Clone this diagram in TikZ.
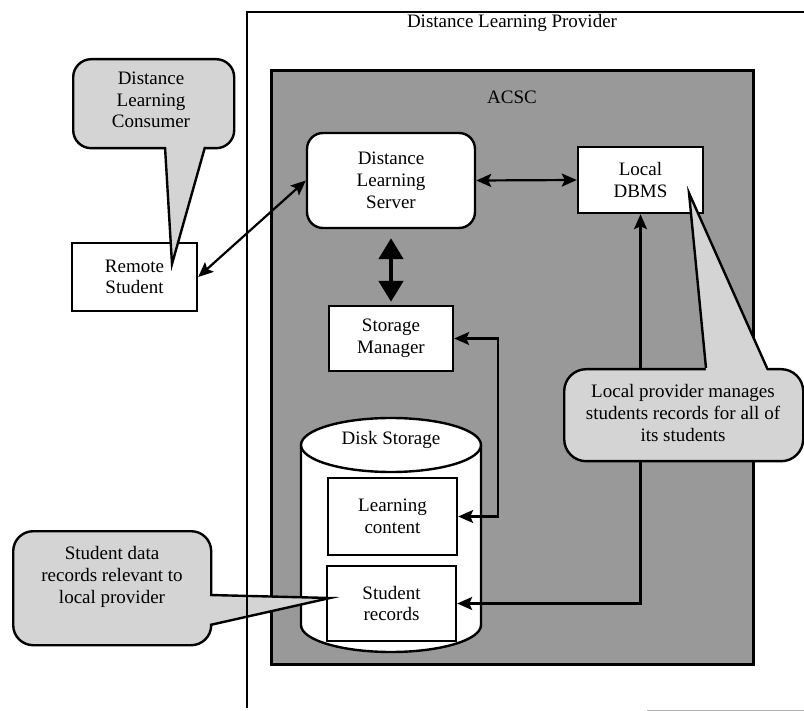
\documentclass[tikz,border=0pt]{standalone}
\usepackage{fontspec}
\setmainfont{Liberation Serif}
\usetikzlibrary{arrows.meta}
\definecolor{acscfill}{gray}{0.6}
\definecolor{notefill}{gray}{0.83}
\begin{document}
\begin{tikzpicture}[x=1pt,y=-1pt,
  font=\fontsize{19}{21.7}\selectfont,
  box/.style={draw, line width=2.4pt, fill=white, align=center, inner sep=0pt},
  link/.style={line width=2.2pt,
    {Stealth[length=15pt,width=13pt,inset=3pt]}-{Stealth[length=15pt,width=13pt,inset=3pt]}},
  biglink/.style={line width=4.8pt,
    {Triangle[length=21pt,width=24pt]}-{Triangle[length=21pt,width=24pt]}},
  note/.style={draw, line width=2.4pt, fill=notefill, align=center, inner sep=0pt},
  tailfill/.style={fill=notefill},
  tailedge/.style={line width=2.4pt, line join=miter},
  ]
\useasboundingbox (0,0) rectangle (804,711);

% ACSC area
\node[draw, line width=3pt, fill=acscfill, inner sep=0pt, anchor=north west,
      minimum width=482, minimum height=594] (acsc) at (270,69) {};
\node (acsclbl) at (512,97) {ACSC};

% provider caption
\node (prov) at (512,23) {Distance Learning Provider};

% components
\node[box, minimum width=125, minimum height=68] (rs) at (134.5,277) {Remote\\Student};
\node[box, rounded corners=16pt, minimum width=168, minimum height=95] (srv) at (391,180.5) {Distance\\Learning\\Server};
\node[box, minimum width=125, minimum height=66] (dbms) at (640.5,180) {Local\\DBMS};
\node[box, minimum width=124, minimum height=65] (sm) at (391,338.5) {Storage\\Manager};

% disk storage cylinder
\draw[line width=2.4pt, fill=white]
  (301,445) -- (301,625)
  .. controls (301,639.9) and (341.3,652) .. (391,652)
  .. controls (440.7,652) and (481,639.9) .. (481,625)
  -- (481,445);
\draw[line width=2.4pt, fill=white] (391,445) ellipse [x radius=90, y radius=27];
\node (disk) at (391,440) {Disk Storage};
\node[box, minimum width=129, minimum height=77] (lc) at (392.5,516.5) {Learning\\content};
\node[box, minimum width=129, minimum height=75] (sr) at (391.5,603.5) {Student\\records};

% connectors
\draw[link] (rs.east) -- (srv.west);
\draw[link] (srv.east) -- (dbms.west);
\draw[biglink, shorten <=9pt, shorten >=3pt] (srv.south) -- (sm.north);
\draw[link] (sm.east) -- ++(44,0) |- (lc.east);
\draw[link] (dbms.south) |- (sr.east);

% callout: consumer
\node[note, rounded corners=18pt, minimum width=161, minimum height=89, anchor=north west] (dlc) at (72,58) {};
\node[align=center] (dlctext) at (151,100) {Distance\\Learning\\Consumer};
\coordinate (dlctip) at (172,264);
\fill[tailfill] (165,144) -- (dlctip) -- (205,144) -- cycle;
\draw[tailedge] (165,147) -- (dlctip) -- (205,147);

% callout: local provider
\node[note, rounded corners=22pt, minimum width=239, minimum height=92, anchor=north west] (lp) at (563,368) {};
\node[align=center] (lptext) at (683,413) {Local provider manages\\students records for all of\\its students};
\coordinate (lptip) at (689,193);
\fill[tailfill] (706,371) -- (lptip) -- (767,371) -- cycle;
\draw[tailedge] (706,368) -- (lptip) -- (767,368);

% callout: student data
\node[note, rounded corners=20pt, minimum width=198, minimum height=114, anchor=north west] (sd) at (12,530) {};
\node[align=center] (sdtext) at (112,577) {Student data\\records relevant to\\local provider};
\coordinate (sdtip) at (330,598);
\fill[tailfill] (207,595) -- (sdtip) -- (207,625) -- cycle;
\draw[tailedge] (210,595) -- (sdtip) -- (210,625);

% provider frame
\draw[line width=2.4pt] (804,12) -- (247,12) -- (247,708);
\draw[line width=1pt, gray!60] (647,710) -- (804,710);
\end{tikzpicture}
\end{document}
